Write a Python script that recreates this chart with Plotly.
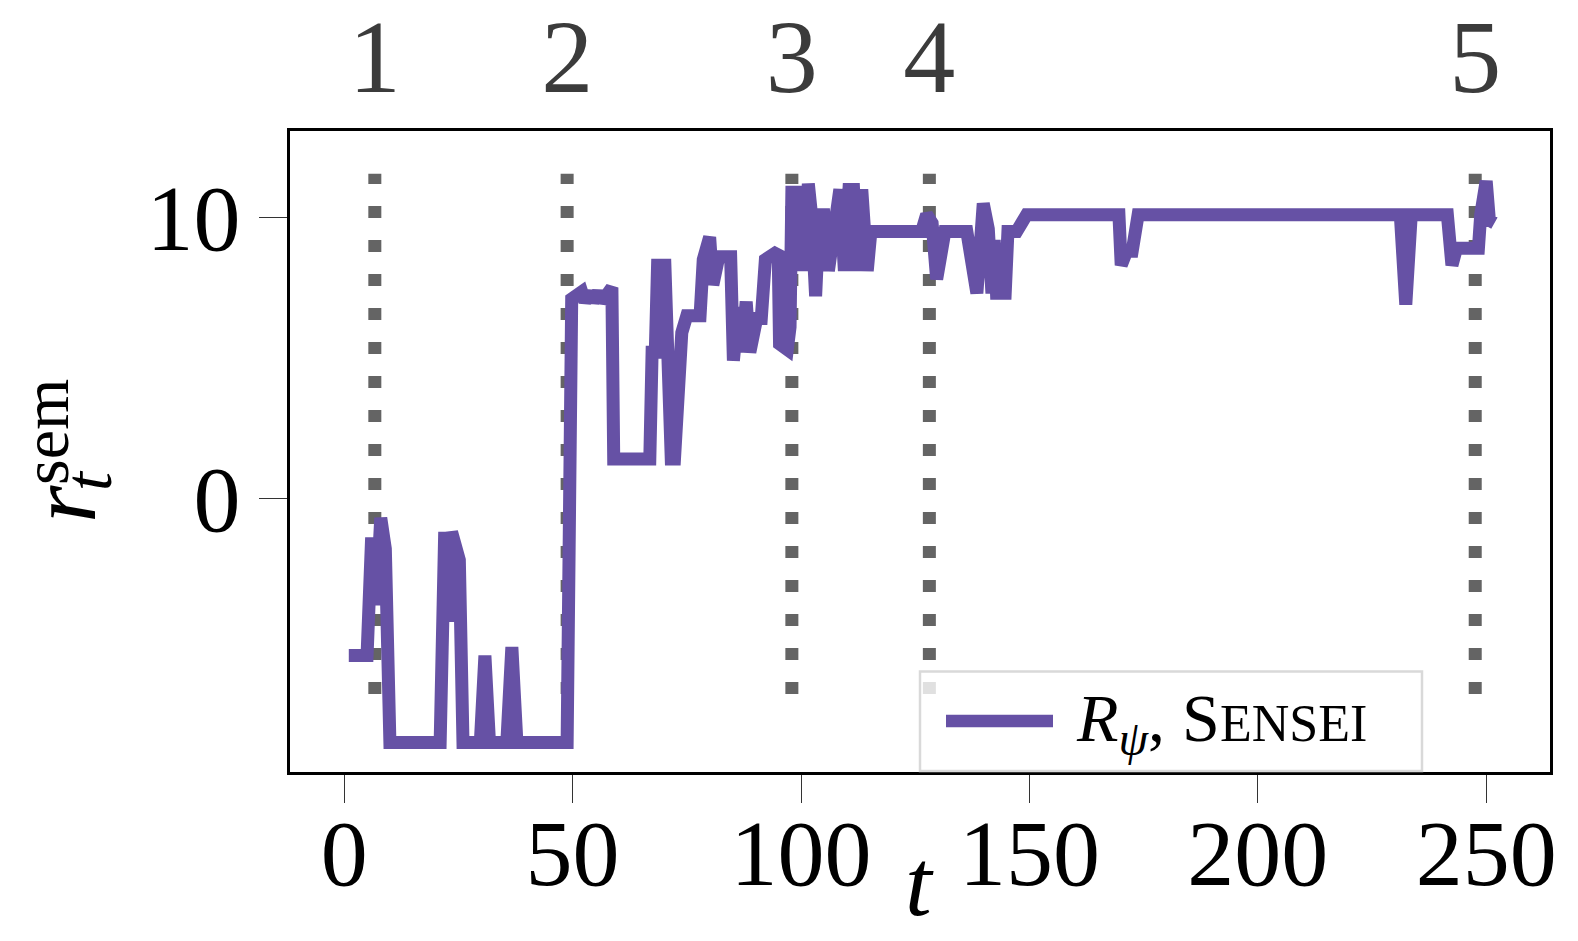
import plotly.graph_objects as go

# semantic reward per step
t_vals = [1, 5, 6, 7, 8, 9, 10, 21, 22, 23, 23.5, 24.5, 25.2, 26, 29.8, 30.8, 31.8,
          35.6, 36.7, 37.8, 48.8, 49.8, 52.0, 52.7, 53.8, 54.5, 55.6, 56.4, 58.6,
          59.0, 66.9, 67.4, 68.1, 68.6, 70.2, 71.6, 72.3, 73.9, 75.0, 77.9, 78.6,
          80.0, 80.7, 82.0, 84.6, 85.2, 86.3, 87.0, 88.0, 88.8, 90.3, 91.3, 92.2,
          95.0, 95.3, 97.0, 97.6, 98.0, 99.0, 99.6, 100.3, 101.0, 101.6, 102.3,
          103.2, 104.0, 105.0, 106.0, 107.8, 108.5, 109.5, 110.5, 111.5, 112.3,
          113.3, 114.5, 115.3, 126.4, 127.5, 128.7, 129.7, 131.5, 136.3, 138.5,
          139.9, 141.0, 141.8, 142.3, 142.8, 144.7, 145.3, 147.2, 148.3, 149.4,
          169.6, 170.1, 171.3, 172.5, 173.8, 231.2, 232.4, 233.6, 241.5, 242.5,
          243.5, 248.3, 248.8, 250.0, 250.7, 251.8]
r_vals = [-5.6, -5.6, -1.4, -3.8, -0.7, -1.8, -8.7, -8.7, -1.2, -4.4, -1.2, -2.2, -2.2,
          -8.7, -8.7, -5.6, -8.7, -8.7, -5.3, -8.7, -8.7, 7.1, 7.35, 7.0, 7.35, 7.0,
          7.35, 7.0, 7.5, 1.4, 1.4, 5.2, 5.2, 8.3, 8.3, 1.4, 1.4, 5.9, 6.5, 6.5, 8.5,
          9.3, 7.6, 8.6, 8.6, 4.9, 6.8, 5.2, 7.0, 5.2, 6.4, 6.4, 8.5, 8.8, 5.5, 5.3,
          6.1, 10.9, 10.9, 8.1, 10.2, 8.1, 11.2, 10.1, 7.2, 10.1, 10.1, 8.1, 11.0,
          11.0, 8.1, 11.0, 11.0, 8.1, 11.0, 8.1, 9.5, 9.5, 10.1, 9.8, 7.8, 9.5, 9.5,
          7.3, 10.5, 9.6, 7.3, 9.2, 7.3, 7.3, 9.5, 9.5, 9.8, 10.1, 10.1, 8.3, 8.8,
          8.8, 10.1, 10.1, 6.9, 10.1, 10.1, 8.3, 8.9, 8.9, 10.1, 11.3, 9.9, 9.8]

# milestone markers
event_t = [6.7, 48.8, 98.0, 128.1, 247.6]
event_labels = ["1", "2", "3", "4", "5"]
event_ymin, event_ymax = -6.97, 11.56

x_ticks = [0, 50, 100, 150, 200, 250]
y_ticks = [0, 10]

# the page body adds an 8px margin, so the figure is laid out 8px smaller
OFF = 8
W, H = 1578 - OFF, 941 - OFF
L, T = 290 - OFF, 131 - OFF
R, B = W - (1550 - OFF), H - (772 - OFF)
PW, PH = W - L - R, H - T - B
FONT = "Liberation Serif"
PURPLE = "#6651a5"
X_RANGE = [-11.87, 263.97]


def px_x(px):
    # page pixel -> paper x
    return (px - OFF - L) / PW


def px_y(py):
    # page pixel -> paper y
    return (H - B - (py - OFF)) / PH


fig = go.Figure()
fig.add_trace(go.Scatter(x=t_vals, y=r_vals, mode="lines",
                         line=dict(color=PURPLE, width=13),
                         name="R_psi, Sensei", showlegend=False))
# invisible trace so the top axis (milestone numbers) is drawn
fig.add_trace(go.Scatter(x=event_t, y=[None] * len(event_t), xaxis="x2",
                         mode="lines", showlegend=False, hoverinfo="skip"))

for xv in event_t:
    fig.add_shape(type="line", x0=xv, x1=xv, y0=event_ymin, y1=event_ymax,
                  xref="x", yref="y", layer="below",
                  line=dict(color="#646464", width=13, dash="12px,22px"))

# legend drawn by hand (matplotlib style box)
fig.add_shape(type="rect", xref="paper", yref="paper",
              x0=px_x(920), x1=px_x(1422), y0=px_y(771), y1=px_y(671.5),
              fillcolor="rgba(255,255,255,0.8)", line=dict(color="#d9d9d9", width=2.5),
              layer="above")
fig.add_shape(type="line", xref="paper", yref="paper",
              x0=px_x(946), x1=px_x(1053), y0=px_y(721), y1=px_y(721),
              line=dict(color=PURPLE, width=12.5), layer="above")
fig.add_annotation(x=px_x(1074), y=px_y(722), xref="paper", yref="paper",
                   xanchor="left", yanchor="middle", showarrow=False,
                   text="<i>R</i><sub><i>ψ</i></sub>, S<span style='font-size:52px'>ENSEI</span>",
                   font=dict(family=FONT, size=68, color="black"))

# y label r_t^sem, rotated
fig.add_annotation(x=px_x(62), y=px_y(504), xref="paper", yref="paper",
                   text="<i>r</i>", textangle=-90, showarrow=False,
                   xanchor="center", yanchor="middle",
                   font=dict(family=FONT, size=96, color="black"))
fig.add_annotation(x=px_x(88), y=px_y(480), xref="paper", yref="paper",
                   text="<i>t</i>", textangle=-90, showarrow=False,
                   xanchor="center", yanchor="middle",
                   font=dict(family=FONT, size=68, color="black"))
fig.add_annotation(x=px_x(45), y=px_y(432), xref="paper", yref="paper",
                   text="sem", textangle=-90, showarrow=False,
                   xanchor="center", yanchor="middle",
                   font=dict(family=FONT, size=66, color="black"))

# x label t
fig.add_annotation(x=px_x(919), y=px_y(882), xref="paper", yref="paper",
                   text="<i>t</i>", showarrow=False,
                   xanchor="center", yanchor="middle",
                   font=dict(family=FONT, size=96, color="black"))

fig.update_xaxes(range=X_RANGE, tickvals=x_ticks, ticks="outside",
                 ticklen=28, tickwidth=1.4, tickcolor="#333",
                 showline=True, mirror=True, linecolor="black", linewidth=2.6,
                 showgrid=False, zeroline=False, ticklabelstandoff=-31,
                 automargin=False,
                 tickfont=dict(family=FONT, size=94, color="black"))
fig.update_yaxes(range=[-9.75, 13.08], tickvals=y_ticks, ticks="outside",
                 ticklen=28, tickwidth=1.4, tickcolor="#333",
                 showline=True, mirror=True, linecolor="black", linewidth=2.6,
                 showgrid=False, zeroline=False, ticklabelstandoff=0,
                 automargin=False,
                 tickfont=dict(family=FONT, size=94, color="black"))

fig.update_layout(width=W, height=H, autosize=False,
                  margin=dict(l=L, r=R, t=T, b=B),
                  plot_bgcolor="white", paper_bgcolor="white",
                  showlegend=False,
                  xaxis2=dict(overlaying="x", side="top", range=X_RANGE,
                              tickvals=event_t, ticktext=event_labels,
                              ticks="", showline=False, showgrid=False,
                              zeroline=False, automargin=False,
                              ticklabelstandoff=17,
                              tickfont=dict(family=FONT, size=104, color="#3b3b3b")))

fig.write_html("out.html")
